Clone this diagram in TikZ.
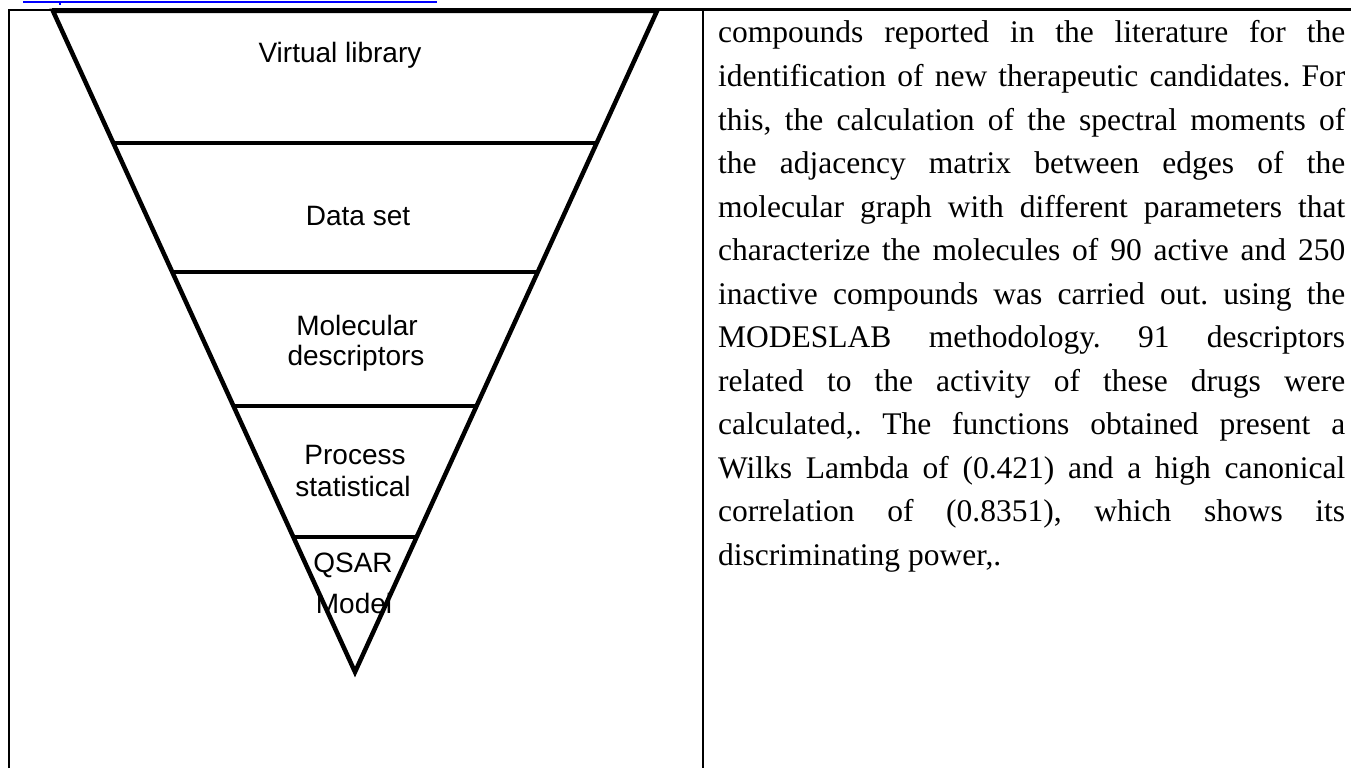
\documentclass[tikz,border=0pt]{standalone}
\usepackage{fontspec}
\setmainfont{Liberation Serif}
\newfontfamily\arialfont{Liberation Sans}
\usetikzlibrary{calc}
\frenchspacing
\tikzset{
  tri/.style={line width=4.5pt, line join=miter, black},
  rule/.style={line width=4.5pt, black},
  border/.style={line width=1.6pt, black},
  lab/.style={font=\arialfont\fontsize{28pt}{32pt}\selectfont, anchor=base, inner sep=0pt},
  body/.style={font=\frenchspacing\fontsize{31.5pt}{43.5pt}\selectfont, anchor=base west, inner sep=0pt},
  link/.style={line width=1.8pt, color={rgb,255:red,0;green,0;blue,255}}
}
\newcommand{\jline}[1]{\makebox[627pt][s]{#1}}
\begin{document}
\begin{tikzpicture}[x=1pt,y=-1pt]
\useasboundingbox (0,0) rectangle (1351,768);
% link underline at top
\coordinate (u1) at (23,2);
\coordinate (u2) at (437,2);
\draw[link] (u1) -- (u2);
\coordinate (t1) at (60,2);
\coordinate (t2) at (60,5.5);
\draw[link, line width=1.4pt] (t1) -- (t2);
% table borders
\coordinate (bl0) at (9.2,10);
\coordinate (bl1) at (9.2,768);
\coordinate (bt1) at (52,10);
\coordinate (bt2) at (1351,10);
\coordinate (dv0) at (703,10);
\coordinate (dv1) at (703,768);
\draw[border] (bl1) -- (bl0) -- (bt1);
\draw[line width=3pt] (bt1) -- (bt2);
\draw[line width=2pt] (dv0) -- (dv1);
% inverted triangle
\coordinate (tl) at (53,11);
\coordinate (tr) at (657,11);
\coordinate (ap) at (355,672);
\draw[tri] (tl) -- (tr) -- (ap) -- cycle;
\foreach \f/\n in {0.1997/1, 0.3949/2, 0.5976/3, 0.7958/4}{
  \coordinate (L\n) at ($(tl)!\f!(ap)$);
  \coordinate (R\n) at ($(tr)!\f!(ap)$);
  \draw[rule] (L\n) -- (R\n);
}
% labels
\node[lab] (vl) at (340,63) {Virtual library};
\node[lab] (ds) at (358,225) {Data set};
\node[lab] (md1) at (357,335) {Molecular};
\node[lab] (md2) at (356,365) {descriptors};
\node[lab] (ps1) at (355,464) {Process};
\node[lab] (ps2) at (353,496) {statistical};
\node[lab] (q1) at (353,572) {QSAR};
\node[lab] (q2) at (354,613) {Model};
% body text
\node[body] (r1) at (718,43) {\jline{compounds reported in the literature for the}};
\node[body] (r2) at (718,86.5) {\jline{identification of new therapeutic candidates. For}};
\node[body] (r3) at (718,130) {\jline{this, the calculation of the spectral moments of}};
\node[body] (r4) at (718,173.5) {\jline{the adjacency matrix between edges of the}};
\node[body] (r5) at (718,217) {\jline{molecular graph with different parameters that}};
\node[body] (r6) at (718,260.5) {\jline{characterize the molecules of 90 active and 250}};
\node[body] (r7) at (718,304) {\jline{inactive compounds was carried out. using the}};
\node[body] (r8) at (718,347.5) {\jline{MODESLAB methodology. 91 descriptors}};
\node[body] (r9) at (718,391) {\jline{related to the activity of these drugs were}};
\node[body] (r10) at (718,434.5) {\jline{calculated,. The functions obtained present a}};
\node[body] (r11) at (718,478) {\jline{Wilks Lambda of (0.421) and a high canonical}};
\node[body] (r12) at (718,521.5) {\jline{correlation of (0.8351), which shows its}};
\node[body] (r13) at (718,565) {discriminating power,.};
\end{tikzpicture}
\end{document}
